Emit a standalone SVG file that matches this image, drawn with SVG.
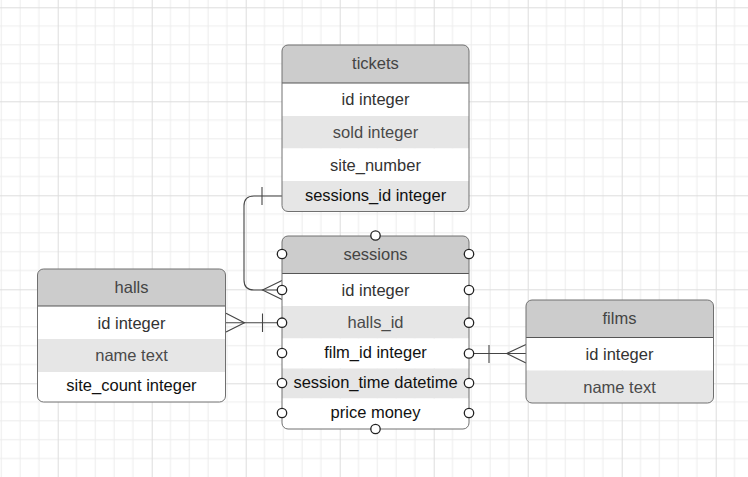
<svg xmlns="http://www.w3.org/2000/svg" width="748" height="477" viewBox="0 0 748 477">
<style>
.hdr{fill:#cccccc}
.w{fill:#ffffff}
.g{fill:#e6e6e6}
.box{fill:none;stroke:#707070;stroke-width:1}
.sep{stroke:#555555;stroke-width:1}
text{font-family:"Liberation Sans",Arial,sans-serif;font-size:16.5px;text-anchor:middle}
.ht{fill:#444444}
.rt{fill:#333333}
.dt{fill:#111111}
.lt{fill:#4a4a4a}
.con{fill:none;stroke:#444444;stroke-width:1.1}
.pt{fill:#ffffff;stroke:#222222;stroke-width:1.3}
</style>
<defs>
<pattern id="grid" x="57.7" y="7.3" width="94" height="94" patternUnits="userSpaceOnUse">
<path d="M18.8,0V94M37.6,0V94M56.4,0V94M75.2,0V94M0,18.8H94M0,37.6H94M0,56.4H94M0,75.2H94" stroke="#ececec" stroke-width="1" fill="none"/>
<path d="M0.5,0V94M0,0.5H94" stroke="#dddddd" stroke-width="1" fill="none"/>
</pattern>
<clipPath id="cT"><rect x="282" y="45" width="187" height="166.5" rx="6"/></clipPath>
<clipPath id="cS"><rect x="282" y="236" width="187" height="193" rx="6"/></clipPath>
<clipPath id="cH"><rect x="37.5" y="269" width="188" height="133" rx="6"/></clipPath>
<clipPath id="cF"><rect x="526" y="300" width="187.5" height="103" rx="6"/></clipPath>
</defs>
<rect width="748" height="477" fill="#ffffff"/>
<rect width="748" height="477" fill="url(#grid)"/>

<g id="connectors">
<path class="con" d="M282,196H254Q244,196 244,206V280Q244,290 254,290H282"/>
<path class="con" d="M262,187V205"/>
<path class="con" d="M282,280.5L262.5,290L282,299.5"/>
<path class="con" d="M226,322.7H282"/>
<path class="con" d="M226,313.3L244.5,322.7L226,332"/>
<path class="con" d="M262.5,313.5V332"/>
<path class="con" d="M469,353.5H526"/>
<path class="con" d="M489,345V363"/>
<path class="con" d="M526,344.5L506.7,353.5L526,363"/>
</g>

<g id="tickets">
<g clip-path="url(#cT)">
<rect class="hdr" x="282" y="45" width="187" height="38"/>
<rect class="w" x="282" y="83" width="187" height="33"/>
<rect class="g" x="282" y="116" width="187" height="32.5"/>
<rect class="w" x="282" y="148.5" width="187" height="32.5"/>
<rect class="g" x="282" y="181" width="187" height="31"/>
</g>
<line class="sep" x1="282" y1="83" x2="469" y2="83"/>
<rect class="box" x="282" y="45" width="187" height="166.5" rx="6"/>
<text class="ht" x="375.5" y="68.5">tickets</text>
<text class="rt" x="375.5" y="105.3">id integer</text>
<text class="lt" x="375.5" y="137.7">sold integer</text>
<text class="rt" x="375.5" y="170.5">site_number</text>
<text class="dt" x="375.5" y="201">sessions_id integer</text>
</g>

<g id="sessions">
<g clip-path="url(#cS)">
<rect class="hdr" x="282" y="236" width="187" height="37.5"/>
<rect class="w" x="282" y="273.5" width="187" height="32.5"/>
<rect class="g" x="282" y="306" width="187" height="32.5"/>
<rect class="w" x="282" y="338.5" width="187" height="30"/>
<rect class="g" x="282" y="368.5" width="187" height="30"/>
<rect class="w" x="282" y="398.5" width="187" height="31"/>
</g>
<line class="sep" x1="282" y1="273.5" x2="469" y2="273.5"/>
<rect class="box" x="282" y="236" width="187" height="193" rx="6"/>
<text class="ht" x="375.5" y="260">sessions</text>
<text class="rt" x="375.5" y="296">id integer</text>
<text class="lt" x="375.5" y="328">halls_id</text>
<text class="dt" x="375.5" y="358">film_id integer</text>
<text class="dt" x="375.5" y="388">session_time datetime</text>
<text class="dt" x="375.5" y="418">price money</text>
<circle class="pt" cx="375.5" cy="235.5" r="4.7"/>
<circle class="pt" cx="375.5" cy="429" r="4.7"/>
<circle class="pt" cx="282" cy="254" r="4.7"/>
<circle class="pt" cx="282" cy="290" r="4.7"/>
<circle class="pt" cx="282" cy="322.7" r="4.7"/>
<circle class="pt" cx="282" cy="353" r="4.7"/>
<circle class="pt" cx="282" cy="383" r="4.7"/>
<circle class="pt" cx="282" cy="413" r="4.7"/>
<circle class="pt" cx="469" cy="254" r="4.7"/>
<circle class="pt" cx="469" cy="290" r="4.7"/>
<circle class="pt" cx="469" cy="322.7" r="4.7"/>
<circle class="pt" cx="469" cy="353.5" r="4.7"/>
<circle class="pt" cx="469" cy="383" r="4.7"/>
<circle class="pt" cx="469" cy="413" r="4.7"/>
</g>

<g id="halls">
<g clip-path="url(#cH)">
<rect class="hdr" x="37.5" y="269" width="188" height="37"/>
<rect class="w" x="37.5" y="306" width="188" height="33"/>
<rect class="g" x="37.5" y="339" width="188" height="33"/>
<rect class="w" x="37.5" y="372" width="188" height="30"/>
</g>
<line class="sep" x1="37.5" y1="306" x2="225.5" y2="306"/>
<rect class="box" x="37.5" y="269" width="188" height="133" rx="6"/>
<text class="ht" x="131.5" y="293">halls</text>
<text class="rt" x="131.5" y="329">id integer</text>
<text class="lt" x="131.5" y="361">name text</text>
<text class="dt" x="131.5" y="391">site_count integer</text>
</g>

<g id="films">
<g clip-path="url(#cF)">
<rect class="hdr" x="526" y="300" width="187.5" height="37.5"/>
<rect class="w" x="526" y="337.5" width="187.5" height="33"/>
<rect class="g" x="526" y="370.5" width="187.5" height="33"/>
</g>
<line class="sep" x1="526" y1="337.5" x2="713.5" y2="337.5"/>
<rect class="box" x="526" y="300" width="187.5" height="103" rx="6"/>
<text class="ht" x="619.5" y="324">films</text>
<text class="rt" x="619.5" y="360">id integer</text>
<text class="lt" x="619.5" y="393">name text</text>
</g>
</svg>
